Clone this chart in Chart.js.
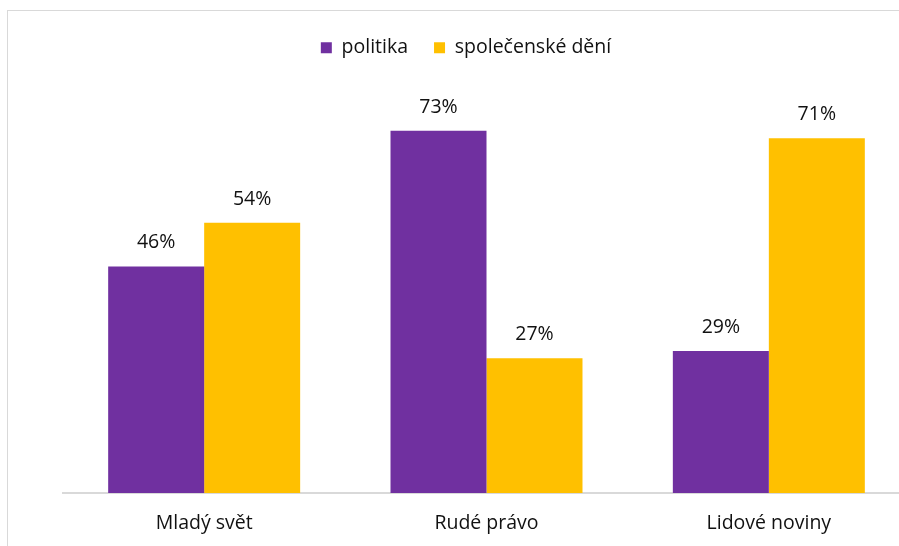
<!DOCTYPE html>
<html>
<head>
<meta charset="utf-8">
<script src="https://cdn.jsdelivr.net/npm/chart.js@4"></script>
<style>
  html, body { margin: 0; padding: 0; background: #fff; overflow: hidden; width: 899px; height: 546px; }
  #frame { position: absolute; left: 7px; top: 10px; width: 960px; height: 600px;
           border-left: 1px solid #d9d9d9; border-top: 1px solid #d9d9d9; }
  #c { position: absolute; left: 0; top: 0; }
</style>
</head>
<body>
<div id="frame"><canvas id="c" width="916" height="535"></canvas></div>
<script>
const categories = ["Mladý svět", "Rudé právo", "Lidové noviny"];
const seriesNames = ["politika", "společenské dění"];
const politika = [45.6, 72.9, 28.6];
const spolecenskeDeni = [54.4, 27.1, 71.4];
const yMax = 80;

const FONT = "'Open Sans', Lato, sans-serif";
const TEXT = "#111111";
const FS = 19.5;

const dataLabels = {
  id: 'dataLabels',
  afterDatasetsDraw(chart) {
    const ctx = chart.ctx;
    ctx.save();
    ctx.font = FS + "px " + FONT;
    ctx.fillStyle = TEXT;
    ctx.textAlign = 'center';
    ctx.textBaseline = 'alphabetic';
    chart.data.datasets.forEach((ds, i) => {
      chart.getDatasetMeta(i).data.forEach((bar, j) => {
        ctx.fillText(Math.round(ds.data[j]) + '%', bar.x, bar.y - 18);
      });
    });
    ctx.restore();
  }
};

const legendMargin = {
  id: 'legendMargin',
  beforeInit(chart) {
    const fit = chart.legend.fit;
    chart.legend.fit = function () {
      fit.bind(chart.legend)();
      this.height += 28;
    };
  }
};

new Chart(document.getElementById('c'), {
  type: 'bar',
  data: {
    labels: categories,
    datasets: [
      { label: seriesNames[0], data: politika, backgroundColor: '#7030A0' },
      { label: seriesNames[1], data: spolecenskeDeni, backgroundColor: '#FFC000' }
    ]
  },
  options: {
    responsive: false,
    animation: false,
    devicePixelRatio: 1,
    layout: { padding: { left: 14, right: 14, top: 1, bottom: 0 } },
    datasets: { bar: { barPercentage: 1, categoryPercentage: 0.68 } },
    scales: {
      x: {
        grid: { display: false, drawTicks: false },
        border: { display: true, color: '#d9d9d9', width: 2 },
        ticks: { color: TEXT, font: { family: FONT, size: FS }, padding: 19 },
        afterFit(scale) { scale.height = 53; }
      },
      y: {
        display: true,
        min: 0, max: yMax,
        grid: { display: false, drawTicks: false },
        border: { display: false },
        ticks: { display: false },
        afterFit(scale) { scale.width = 41; }
      }
    },
    plugins: {
      legend: {
        position: 'top',
        labels: {
          boxWidth: 11, boxHeight: 11, padding: 26,
          color: TEXT, font: { family: FONT, size: FS }
        }
      },
      tooltip: { enabled: false }
    }
  },
  plugins: [dataLabels, legendMargin]
});
</script>
</body>
</html>
